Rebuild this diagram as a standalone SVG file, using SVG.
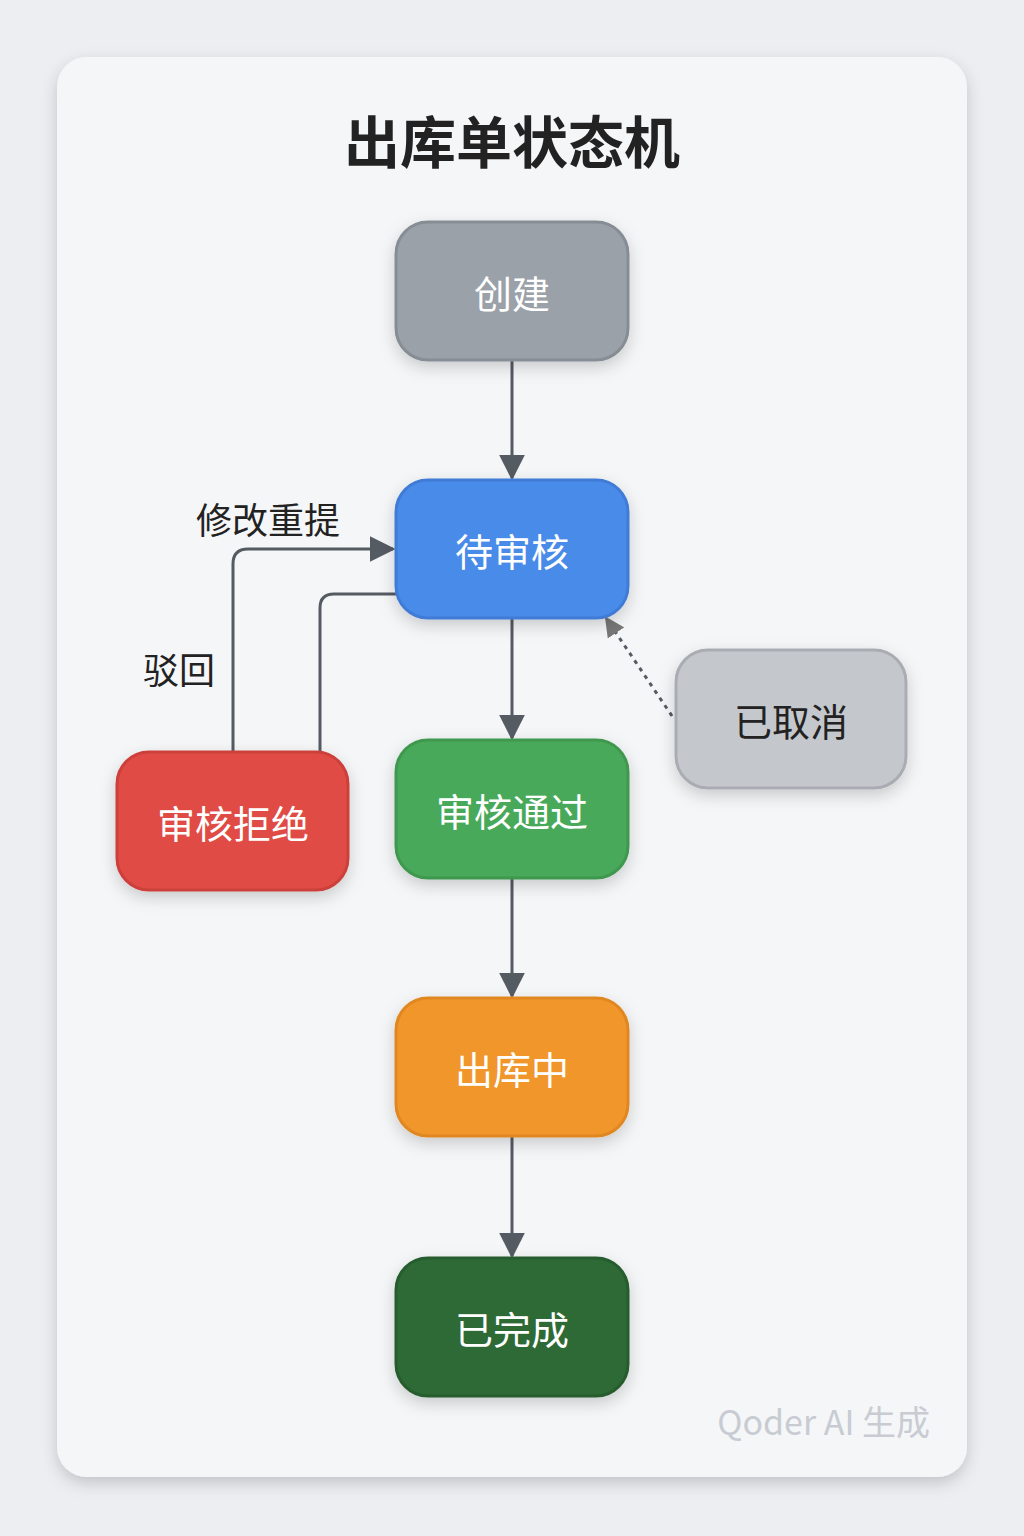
<svg xmlns="http://www.w3.org/2000/svg" width="1024" height="1536" viewBox="0 0 1024 1536">
<defs>
<style>
.t{font-family:"Noto Sans CJK SC","Noto Sans",sans-serif;}
.nt{font-size:38px;fill:#fff;text-anchor:middle;dominant-baseline:central}
.ln{stroke:#555b63;stroke-width:3;fill:none}
.lb{font-size:36px;fill:#222}
</style>
<marker id="a" viewBox="0 0 10 10" refX="9" refY="5" markerWidth="26" markerHeight="26" markerUnits="userSpaceOnUse" orient="auto"><path d="M0,0 L10,5 L0,10 z" fill="#555b63"/></marker>
<marker id="b" viewBox="0 0 10 10" refX="9" refY="5" markerWidth="20" markerHeight="20" markerUnits="userSpaceOnUse" orient="auto"><path d="M0,0 L10,5 L0,10 z" fill="#777"/></marker>
<filter id="sh" x="-20%" y="-20%" width="140%" height="150%"><feDropShadow dx="0" dy="6" stdDeviation="8" flood-opacity="0.18"/></filter>
</defs>
<rect width="1024" height="1536" fill="#eceef1"/>
<rect x="57" y="57" width="910" height="1420" rx="30" fill="#f5f6f8" filter="url(#sh)"/>
<text class="t" x="512" y="138" font-size="56" font-weight="bold" fill="#222" text-anchor="middle" dominant-baseline="central">出库单状态机</text>
<g id="connectors">
<line class="ln" x1="512" y1="360" x2="512" y2="478" marker-end="url(#a)"/>
<line class="ln" x1="512" y1="618" x2="512" y2="738" marker-end="url(#a)"/>
<line class="ln" x1="512" y1="878" x2="512" y2="996" marker-end="url(#a)"/>
<line class="ln" x1="512" y1="1136" x2="512" y2="1256" marker-end="url(#a)"/>
<path class="ln" d="M233,752 V564 Q233,549 248,549 H393" marker-end="url(#a)"/>
<path class="ln" d="M398,594 H334 Q320,594 320,608 V752"/>
<line class="ln" x1="672" y1="716" x2="606" y2="618" stroke-dasharray="4,5" stroke="#777" marker-end="url(#b)"/>
<text class="t lb" x="196" y="518" dominant-baseline="central">修改重提</text>
<text class="t lb" x="143" y="668" dominant-baseline="central">驳回</text>
</g>
<g id="n1"><rect x="396" y="222" width="232" height="138" rx="32" fill="#9ba1a9" stroke="#878d95" stroke-width="3" filter="url(#sh)"/><text class="t nt" x="512" y="291">创建</text></g>
<g id="n2"><rect x="396" y="480" width="232" height="138" rx="32" fill="#4a8be8" stroke="#3f7bd6" stroke-width="3" filter="url(#sh)"/><text class="t nt" x="512" y="549">待审核</text></g>
<g id="n3"><rect x="396" y="740" width="232" height="138" rx="32" fill="#49a95a" stroke="#3f984f" stroke-width="3" filter="url(#sh)"/><text class="t nt" x="512" y="809">审核通过</text></g>
<g id="n4"><rect x="396" y="998" width="232" height="138" rx="32" fill="#f0962a" stroke="#e08722" stroke-width="3" filter="url(#sh)"/><text class="t nt" x="512" y="1067">出库中</text></g>
<g id="n5"><rect x="396" y="1258" width="232" height="138" rx="32" fill="#2e6b35" stroke="#265c2d" stroke-width="3" filter="url(#sh)"/><text class="t nt" x="512" y="1327">已完成</text></g>
<g id="n6"><rect x="117" y="752" width="231" height="138" rx="32" fill="#e04c45" stroke="#cc403a" stroke-width="3" filter="url(#sh)"/><text class="t nt" x="233" y="821">审核拒绝</text></g>
<g id="n7"><rect x="676" y="650" width="230" height="138" rx="32" fill="#c4c7cc" stroke="#a9adb3" stroke-width="3" filter="url(#sh)"/><text class="t nt" x="791" y="719" style="fill:#222">已取消</text></g>
<text class="t" x="930" y="1420" font-size="34" fill="#c8ccd2" text-anchor="end" dominant-baseline="central">Qoder AI 生成</text>
</svg>
